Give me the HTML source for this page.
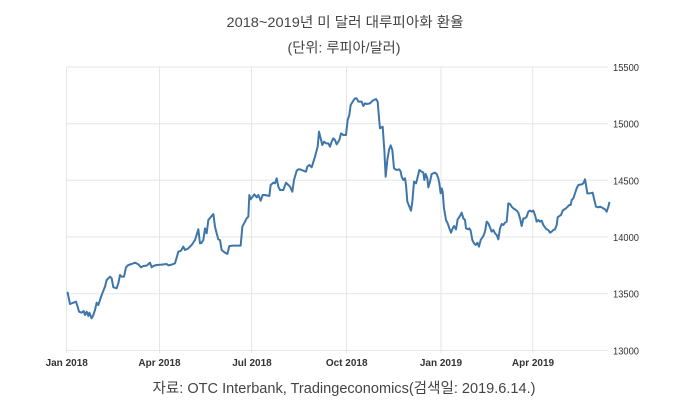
<!DOCTYPE html>
<html><head><meta charset="utf-8"><style>
html,body{margin:0;padding:0;background:#fff;}
svg{display:block;}
</style></head><body>
<svg width="691" height="410" viewBox="0 0 691 410" xmlns="http://www.w3.org/2000/svg">
<rect width="691" height="410" fill="#fff"/>
<g font-family="'Liberation Sans','Noto Sans CJK KR',sans-serif" fill="#444">
<text x="345" y="27" font-size="14" text-anchor="middle" textLength="237" lengthAdjust="spacingAndGlyphs">2018~2019년 미 달러 대루피아화 환율</text>
<text x="344" y="52.5" font-size="14" text-anchor="middle" textLength="113" lengthAdjust="spacingAndGlyphs">(단위: 루피아/달러)</text>
<text x="344" y="393" font-size="14.5" text-anchor="middle" textLength="383" lengthAdjust="spacingAndGlyphs">자료: OTC Interbank, Tradingeconomics(검색일: 2019.6.14.)</text>
</g>
<g stroke="#e6e6e6" stroke-width="1" fill="none">
<line x1="66.5" y1="67" x2="608" y2="67"/>
<line x1="66.5" y1="123.7" x2="608" y2="123.7"/>
<line x1="66.5" y1="180.3" x2="608" y2="180.3"/>
<line x1="66.5" y1="237" x2="608" y2="237"/>
<line x1="66.5" y1="293.7" x2="608" y2="293.7"/>
<line x1="66.5" y1="350.5" x2="608" y2="350.5"/>
<line x1="66.5" y1="67" x2="66.5" y2="353"/>
<line x1="159.5" y1="67" x2="159.5" y2="353"/>
<line x1="251.5" y1="67" x2="251.5" y2="353"/>
<line x1="346.5" y1="67" x2="346.5" y2="353"/>
<line x1="441" y1="67" x2="441" y2="353"/>
<line x1="532.7" y1="67" x2="532.7" y2="353"/>
</g>
<g font-family="'Liberation Sans',sans-serif" font-size="10" fill="#333">
<text x="613" y="71" textLength="26" lengthAdjust="spacingAndGlyphs">15500</text>
<text x="613" y="127.7" textLength="26" lengthAdjust="spacingAndGlyphs">15000</text>
<text x="613" y="184.3" textLength="26" lengthAdjust="spacingAndGlyphs">14500</text>
<text x="613" y="241" textLength="26" lengthAdjust="spacingAndGlyphs">14000</text>
<text x="613" y="297.7" textLength="26" lengthAdjust="spacingAndGlyphs">13500</text>
<text x="613" y="354.3" textLength="26" lengthAdjust="spacingAndGlyphs">13000</text>
</g>
<g font-family="'Liberation Sans',sans-serif" font-size="10" font-weight="bold" fill="#333" text-anchor="middle">
<text x="66.7" y="366">Jan 2018</text>
<text x="159.5" y="366">Apr 2018</text>
<text x="252" y="366">Jul 2018</text>
<text x="346.7" y="366">Oct 2018</text>
<text x="441" y="366">Jan 2019</text>
<text x="533" y="366">Apr 2019</text>
</g>
<g fill="none" stroke="#3f76a9" stroke-width="6" stroke-linejoin="round" stroke-linecap="round">
<path transform="translate(55,180) scale(0.333333)" d="M38,338 L45,372 L55,368 L63,365 L68,380 L72,395 L80,398 L86,393 L90,405 L95,395 L100,408 L103,398 L110,415 L115,405 L120,390 L125,368 L130,375 L140,345 L150,320 L155,300 L165,290 L170,295 L175,322 L185,325 L190,310 L195,285 L200,290 L207,290 L213,262 L220,255 L230,252 L240,248 L250,253 L258,262 L265,258 L275,257 L285,248 L290,262 L295,258 L305,255 L320,254 L335,252 L340,256 L350,254 L360,250 L370,215 L378,212 L385,200 L390,210 L400,205 L410,195 L420,180 L430,148 L435,190 L440,188"/>
<path transform="translate(200,80) scale(0.333333)" d="M4,489 L10,480 L15,445 L20,460 L25,420 L35,408 L40,402 L45,440 L50,460 L55,478 L60,480 L65,510 L75,518 L82,522 L88,498 L100,497 L122,497 L127,440 L135,425 L140,415 L145,410 L148,345 L152,358 L158,350 L163,343 L170,352 L175,345 L182,362 L188,345 L195,345 L208,348 L212,315 L220,308 L225,310 L230,295 L235,320 L240,330 L250,330 L258,308 L265,315 L270,320 L277,335 L282,300 L290,272 L295,268 L300,268 L310,272 L318,275 L322,260 L328,255 L335,262 L345,230 L353,200 L357,155 L362,175 L367,195 L372,185 L378,190 L385,190 L390,200 L395,185 L400,175 L405,180 L410,193 L418,180 L423,160 L430,165 L438,165 L443,120 L448,105 L452,75 L460,62 L465,55 L470,55 L475,65 L485,65 L490,78 L495,70 L500,72 L510,70 L518,62 L528,57 L533,65 L538,125 L540,145 L548,140 L553,210 L557,290 L562,240 L567,210 L572,196 L577,210 L582,265 L590,270"/>
<path transform="translate(380,150) scale(0.333333)" d="M50,60 L58,58 L62,65 L65,80 L70,90 L75,85 L78,105 L82,155 L88,170 L93,182 L97,155 L102,95 L108,100 L112,85 L118,60 L125,65 L130,68 L133,90 L137,72 L142,85 L145,112 L150,95 L155,72 L160,70 L165,68 L170,72 L175,85 L178,100 L182,130 L185,115 L188,125 L192,175 L198,210 L203,220 L208,235 L213,248 L218,235 L222,228 L228,238 L233,208 L240,198 L245,188 L250,205 L255,210 L258,235 L265,238 L268,235 L272,242 L277,270 L282,280 L287,285 L292,278 L297,290 L302,270 L310,258 L315,245 L320,215 L325,220 L330,232 L335,245 L340,240 L345,250 L350,255 L355,268 L360,235 L365,222 L370,225 L375,218 L380,215 L385,160 L390,162 L395,170 L400,175 L405,178 L410,182 L415,188 L420,205 L425,228 L430,205 L435,205 L440,200 L445,185 L450,182 L455,185 L460,182 L465,195 L470,215 L475,210 L480,215 L485,212 L490,225 L495,232 L500,238 L505,240 L510,248 L515,245 L520,240 L525,238 L530,225 L533,202 L538,198 L543,195 L548,182 L553,178 L558,175 L563,170 L568,165 L572,165 L575,150 L580,145 L585,130 L590,115 L595,105 L605,103 L610,100 L615,88 L618,105 L622,130 L630,130 L638,128 L643,150 L648,170 L655,172 L660,170 L665,172 L670,175 L675,178 L680,185 L685,170 L688,158"/>
</g>
</svg>
</body></html>
